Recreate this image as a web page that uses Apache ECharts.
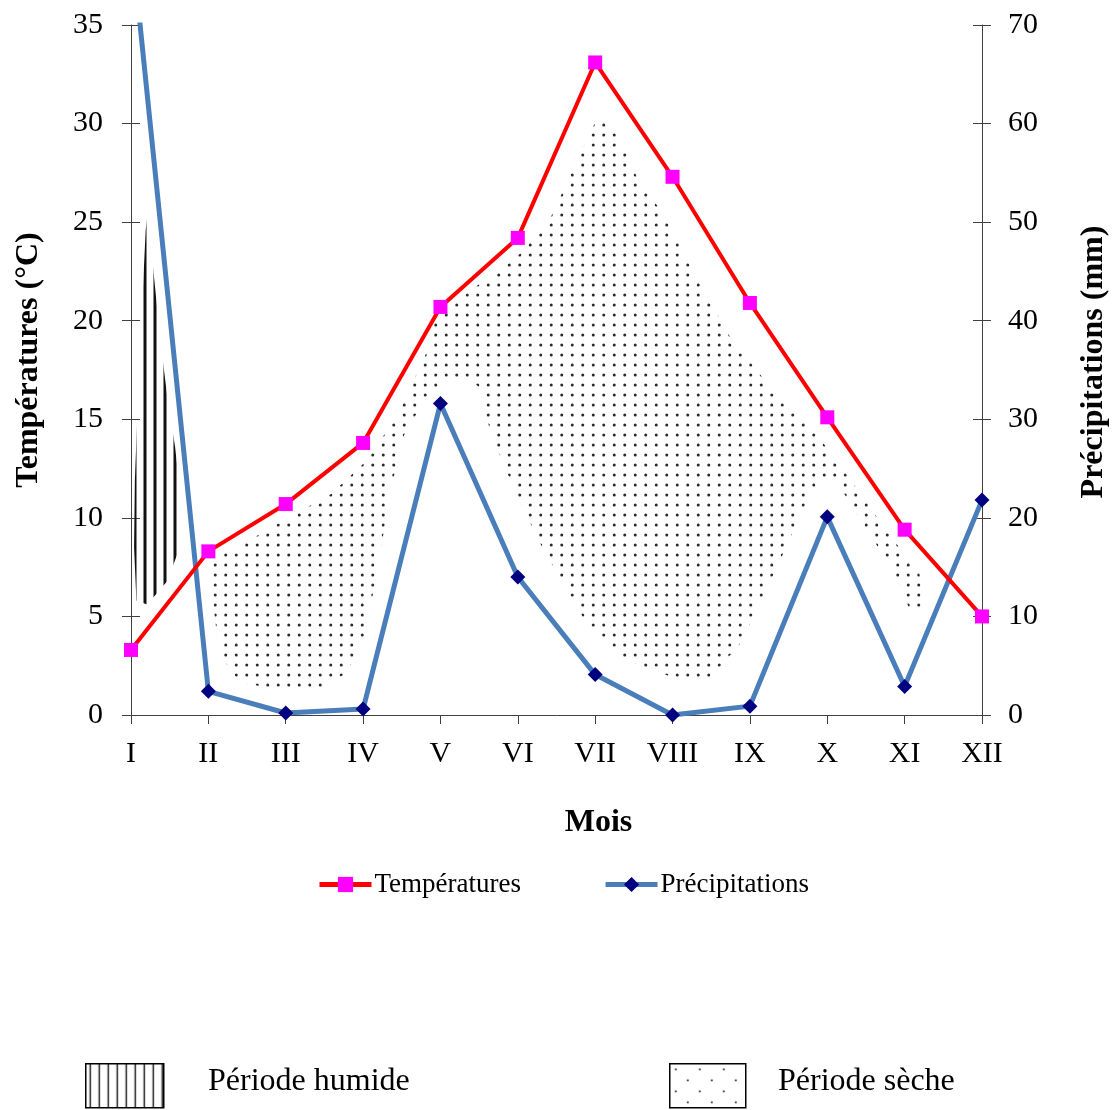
<!DOCTYPE html>
<html><head><meta charset="utf-8">
<script src="https://cdn.jsdelivr.net/npm/echarts@6/dist/echarts.min.js"></script>
<style>html,body{margin:0;padding:0;background:#fff}#c{width:1113px;height:1110px}</style>
</head><body><div id="c"></div>
<script>
// ---- data ----
const months = ['I','II','III','IV','V','VI','VII','VIII','IX','X','XI','XII'];
const temperatures = [3.3, 8.3, 10.7, 13.8, 20.7, 24.2, 33.1, 27.3, 20.9, 15.1, 9.4, 5.0];
const precipitations = [79, 2.4, 0.2, 0.6, 31.6, 14.0, 4.1, 0, 0.9, 20.1, 2.9, 21.8];
const tempTicks = [0, 5, 10, 15, 20, 25, 30, 35];
const precipTicks = [0, 10, 20, 30, 40, 50, 60, 70];
// outlines of the shaded periods, as [month position, °C]
const wetOutline = [[0.22,25.6],[0.28,22.9],[0.38,19.0],[0.47,16.1],[0.57,13.6],[0.64,11.1],[0.63,8.5],[0.47,6.8],[0.21,5.6],[0.07,5.8],[0.04,8.5],[0.05,11.9],[0.10,17.0],[0.16,22.1],[0.19,24.6]];
const dryOutline = [[1.05,7.9],[1.41,8.6],[1.99,9.9],[2.58,11.2],[2.99,12.7],[3.42,15.0],[3.87,18.8],[3.91,20.0],[4.41,21.6],[4.98,23.2],[5.42,25.2],[5.80,28.4],[6.04,30.4],[6.29,29.4],[6.55,27.2],[6.92,25.2],[7.17,23.2],[7.74,19.2],[8.31,16.4],[8.87,14.2],[9.25,12.2],[9.81,9.1],[10.19,7.2],[10.25,5.3],[10.09,5.1],[9.87,7.2],[9.56,9.1],[9.06,12.2],[8.75,11.0],[8.42,8.1],[8.11,5.5],[7.87,3.6],[7.49,1.9],[7.12,1.8],[6.68,2.3],[6.29,3.1],[5.91,4.5],[5.67,6.1],[5.29,8.7],[4.98,11.2],[4.66,14.2],[4.48,16.7],[4.28,17.1],[4.15,17.1],[3.84,16.3],[3.53,14.2],[3.34,11.2],[3.22,8.1],[3.03,4.1],[2.78,2.1],[2.46,1.4],[1.84,1.3],[1.40,1.7],[1.14,3.1],[1.05,6.1]];

// ---- patterns ----
function dotPattern(w, h, r, stagger, col) {
  const c = document.createElement('canvas'); c.width = w; c.height = h;
  const g = c.getContext('2d'); g.fillStyle = col;
  const pts = stagger ? [[w/4,h/4],[3*w/4,3*h/4]] : [[w/4,h/4],[3*w/4,h/4],[w/4,3*h/4],[3*w/4,3*h/4]];
  pts.forEach(p => { g.beginPath(); g.arc(p[0], p[1], r, 0, Math.PI*2); g.fill(); });
  return c;
}
function stripePattern(w, lw) {
  const c = document.createElement('canvas'); c.width = w; c.height = 10;
  const g = c.getContext('2d'); g.fillStyle = '#111';
  g.fillRect((w - lw)/2, 0, lw, 10);
  return c;
}
const dryImg = dotPattern(21, 20, 1.5, false, '#2a2a2a');
const wetImg = stripePattern(10, 3);
const dryBoxImg = dotPattern(24, 22, 1.1, true, '#333');
const wetBoxImg = stripePattern(9, 1.4);

const FONT = 'Liberation Serif';
const chart = echarts.init(document.getElementById('c'));

function polygonRenderer(outline, img) {
  return function (params, api) {
    if (params.dataIndex !== 0) return null;
    const pts = outline.map(p => api.coord(p));
    return { type: 'polygon', shape: { points: pts },
      style: { fill: { image: img, repeat: 'repeat' }, stroke: null } };
  };
}

const axisLineStyle = { color: '#404040', width: 1 };
const tickCommon = { length: 9, lineStyle: axisLineStyle };
const labelStyle = { fontFamily: FONT, fontSize: 30, color: '#000' };
const titleStyle = { fontFamily: FONT, fontSize: 32, fontWeight: 'bold', color: '#000' };

chart.setOption({
  animation: false,
  backgroundColor: '#fff',
  grid: { left: 131, right: 131, top: 25, bottom: 395, containLabel: false, outerBoundsMode: 'none' },
  legend: {
    left: 312, top: 866, itemWidth: 52, itemHeight: 19, itemGap: 82,
    lineStyle: { width: 5 },
    textStyle: { fontFamily: FONT, fontSize: 27, color: '#000', padding: [0,0,0,-2] },
    data: ['Températures', 'Précipitations']
  },
  xAxis: [
    { type: 'category', data: months, boundaryGap: false,
      name: 'Mois', nameLocation: 'middle', nameGap: 92,
      nameTextStyle: Object.assign({ padding: [0, 0, 0, 84] }, titleStyle),
      axisLine: { lineStyle: axisLineStyle },
      axisTick: Object.assign({ inside: false }, tickCommon),
      axisLabel: Object.assign({ margin: 24 }, labelStyle),
      splitLine: { show: false } },
    { type: 'value', min: 0, max: 11, show: false },
    { type: 'category', data: months, boundaryGap: false,
      axisLine: { show: false }, axisLabel: { show: false },
      axisTick: Object.assign({ inside: true }, tickCommon), splitLine: { show: false } }
  ],
  yAxis: [
    { type: 'value', min: tempTicks[0], max: tempTicks[tempTicks.length-1], interval: tempTicks[1]-tempTicks[0],
      position: 'left',
      name: 'Températures (°C)', nameLocation: 'middle', nameGap: 86,
      nameTextStyle: Object.assign({ padding: [0, 0, 0, 20] }, titleStyle),
      axisLine: { show: true, lineStyle: axisLineStyle },
      axisTick: Object.assign({ show: true, inside: false }, tickCommon),
      axisLabel: Object.assign({ margin: 28, padding: [4, 0, 0, 0] }, labelStyle),
      splitLine: { show: false } },
    { type: 'value', min: precipTicks[0], max: precipTicks[precipTicks.length-1], interval: precipTicks[1]-precipTicks[0],
      position: 'right',
      name: 'Précipitations (mm)', nameLocation: 'middle', nameGap: 96,
      nameTextStyle: Object.assign({ padding: [0, 0, 0, 16] }, titleStyle),
      axisLine: { show: true, lineStyle: axisLineStyle },
      axisTick: Object.assign({ show: true, inside: false }, tickCommon),
      axisLabel: Object.assign({ margin: 26, padding: [4, 0, 0, 0] }, labelStyle),
      splitLine: { show: false } },
    { type: 'value', min: tempTicks[0], max: tempTicks[tempTicks.length-1], interval: tempTicks[1]-tempTicks[0],
      position: 'left', axisLine: { show: false }, axisLabel: { show: false },
      axisTick: Object.assign({ show: true, inside: true }, tickCommon), splitLine: { show: false } },
    { type: 'value', min: precipTicks[0], max: precipTicks[precipTicks.length-1], interval: precipTicks[1]-precipTicks[0],
      position: 'right', axisLine: { show: false }, axisLabel: { show: false },
      axisTick: Object.assign({ show: true, inside: true }, tickCommon), splitLine: { show: false } }
  ],
  series: [
    { name: 'wet', type: 'custom', xAxisIndex: 1, yAxisIndex: 0, z: 1,
      renderItem: polygonRenderer(wetOutline, wetImg), data: [wetOutline[0]], silent: true },
    { name: 'dry', type: 'custom', xAxisIndex: 1, yAxisIndex: 0, z: 1,
      renderItem: polygonRenderer(dryOutline, dryImg), data: [dryOutline[0]], silent: true },
    { name: 'Températures', type: 'line', xAxisIndex: 0, yAxisIndex: 0, data: temperatures,
      z: 4, symbol: 'rect', symbolSize: 14,
      lineStyle: { color: '#FF0000', width: 4 },
      itemStyle: { color: '#FF00FF', borderWidth: 0 } },
    { name: 'Précipitations', type: 'line', xAxisIndex: 0, yAxisIndex: 1, data: precipitations,
      z: 3, symbol: 'diamond', symbolSize: 15, clip: true,
      lineStyle: { color: '#4A7EBB', width: 5 },
      itemStyle: { color: '#000080', borderWidth: 0 } }
  ],
  graphic: [
    { type: 'rect', left: 85, top: 1063, shape: { width: 78, height: 44 },
      style: { fill: { image: wetBoxImg, repeat: 'repeat' }, stroke: '#000', lineWidth: 1.5 } },
    { type: 'text', left: 208, top: 1066,
      style: { text: 'Période humide', font: '32px "Liberation Serif"', fill: '#000' } },
    { type: 'rect', left: 669, top: 1063, shape: { width: 76, height: 44 },
      style: { fill: { image: dryBoxImg, repeat: 'repeat' }, stroke: '#000', lineWidth: 1.5 } },
    { type: 'text', left: 778, top: 1066,
      style: { text: 'Période sèche', font: '32px "Liberation Serif"', fill: '#000' } }
  ]
});
</script></body></html>
